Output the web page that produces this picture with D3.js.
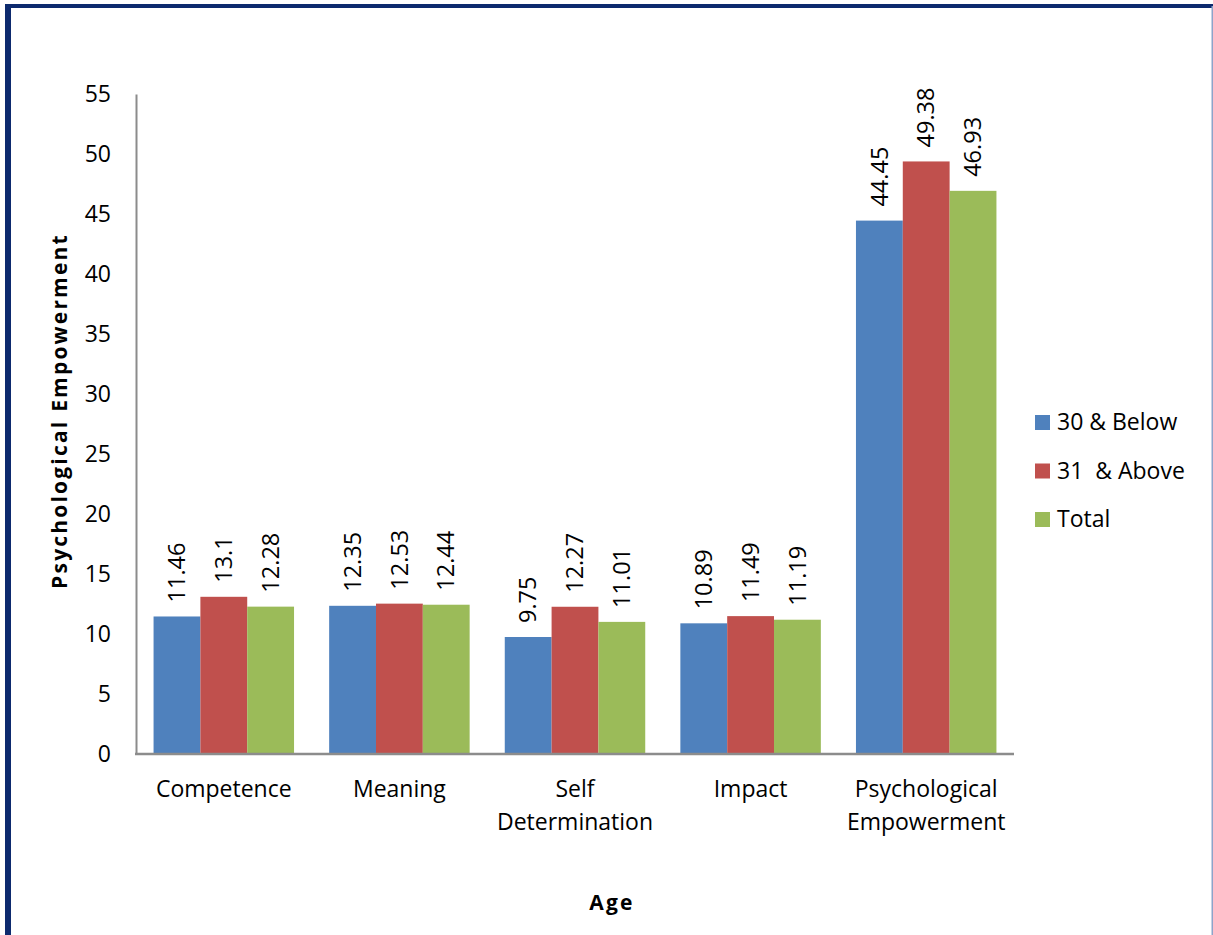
<!DOCTYPE html>
<head>
    <meta charset="utf-8">
    <style>
        body { margin: 0; background: #fff; }
        text { font-family: "Open Sans", Lato, sans-serif; fill: #000; }
        .tick-label { font-size: 23px; }
        .bar-label { font-size: 23.5px; }
        .axis-title { font-size: 21px; font-weight: bold; letter-spacing: 2.2px; }
        .legend-text { font-size: 23px; white-space: pre; }
    </style>
</head>

<body>
    <script src="https://d3js.org/d3.v7.min.js"></script>

    <script>
        var categories = [["Competence"], ["Meaning"], ["Self", "Determination"], ["Impact"], ["Psychological", "Empowerment"]];
        var seriesNames = ["30 & Below", "31  & Above", "Total"];
        var below30 = [11.46, 12.35, 9.75, 10.89, 44.45];
        var above31 = [13.1, 12.53, 12.27, 11.49, 49.38];
        var total = [12.28, 12.44, 11.01, 11.19, 46.93];
        var yTicks = [0, 5, 10, 15, 20, 25, 30, 35, 40, 45, 50, 55];
        var colors = ["#4F81BD", "#C0504D", "#9BBB59"];

        var series = [below30, above31, total];

        var W = 1213, H = 935;
        var plot = {left: 136, right: 1014, top: 94, bottom: 754};

        var svg = d3.select("body").append("svg")
            .attr("width", W)
            .attr("height", H);

        // frame
        svg.append("line").attr("x1", 8).attr("x2", 8).attr("y1", 4).attr("y2", H)
            .attr("stroke", "#0d2a6e").attr("stroke-width", 6);
        svg.append("line").attr("x1", 5).attr("x2", W).attr("y1", 6).attr("y2", 6)
            .attr("stroke", "#0d2a6e").attr("stroke-width", 4);
        svg.append("line").attr("x1", W - 0.5).attr("x2", W - 0.5).attr("y1", 6).attr("y2", H)
            .attr("stroke", "#8ea3c9").attr("stroke-width", 2);

        // each category: 3 bars + 0.75 bar gap (Excel style)
        var x0 = d3.scaleBand()
            .domain(d3.range(categories.length))
            .range([plot.left, plot.right])
            .paddingInner(0.2)
            .paddingOuter(0.1);
        var step = (plot.right - plot.left) / categories.length;
        var barW = step / 3.75;
        var barX = function(i, s) { return plot.left + i * step + barW * 0.375 + s * barW; };

        var y = d3.scaleLinear().domain([0, 55]).range([plot.bottom, plot.top]);

        // bars
        series.forEach(function(vals, s) {
            svg.append("g").selectAll("rect")
                .data(vals)
                .join("rect")
                .attr("x", function(d, i) { return barX(i, s); })
                .attr("y", function(d) { return y(d); })
                .attr("width", barW)
                .attr("height", function(d) { return y(0) - y(d); })
                .attr("fill", colors[s]);

            svg.append("g").selectAll("text")
                .data(vals)
                .join("text")
                .attr("class", "bar-label")
                .attr("transform", function(d, i) {
                    var cx = barX(i, s) + barW / 2;
                    return "translate(" + cx + "," + (y(d) - 14) + ") rotate(-90)";
                })
                .attr("dy", "0.35em")
                .text(function(d) { return d; });
        });

        // y axis
        var yAxis = svg.append("g")
            .attr("transform", "translate(" + plot.left + ",0)")
            .call(d3.axisLeft(y).tickValues(yTicks).tickSize(0).tickPadding(25));
        yAxis.select(".domain").attr("stroke", "#8c8c8c").attr("stroke-width", 2);
        yAxis.selectAll("text").attr("class", "tick-label").attr("font-family", null).attr("font-size", null);

        // x axis
        svg.append("line")
            .attr("x1", plot.left - 1).attr("x2", plot.right)
            .attr("y1", plot.bottom).attr("y2", plot.bottom)
            .attr("stroke", "#8c8c8c").attr("stroke-width", 2.5);

        categories.forEach(function(lines, i) {
            var t = svg.append("text")
                .attr("class", "tick-label")
                .attr("text-anchor", "middle")
                .attr("x", plot.left + i * step + step / 2)
                .attr("y", 797);
            lines.forEach(function(l, j) {
                t.append("tspan")
                    .attr("x", plot.left + i * step + step / 2)
                    .attr("dy", j === 0 ? 0 : 33)
                    .text(l);
            });
        });

        // axis titles
        svg.append("text")
            .attr("class", "axis-title")
            .attr("text-anchor", "middle")
            .attr("x", 612)
            .attr("y", 910)
            .text("Age");

        svg.append("text")
            .attr("class", "axis-title")
            .attr("text-anchor", "middle")
            .attr("transform", "translate(67,411) rotate(-90)")
            .text("Psychological Empowerment");

        // legend
        seriesNames.forEach(function(n, i) {
            var ly = 422 + i * 48.5;
            svg.append("rect")
                .attr("x", 1035).attr("y", ly - 7)
                .attr("width", 15).attr("height", 15)
                .attr("fill", colors[i]);
            svg.append("text")
                .attr("class", "legend-text")
                .attr("x", 1057).attr("y", ly)
                .attr("dy", "0.35em")
                .text(n);
        });
    </script>
</body>
